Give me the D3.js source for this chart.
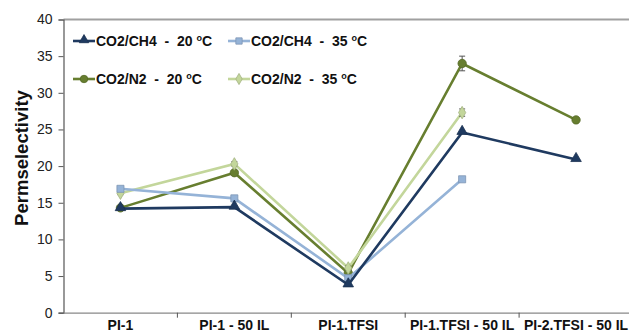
<!DOCTYPE html>
<html><head><meta charset="utf-8">
<script src="https://cdn.jsdelivr.net/npm/d3@7/dist/d3.min.js"></script>
<style>body{margin:0;background:#fff}svg{display:block}</style>
</head><body><svg id="c" width="629" height="335"></svg>
<script>
const categories = ["PI-1", "PI-1 - 50 IL", "PI-1.TFSI", "PI-1.TFSI - 50 IL", "PI-2.TFSI - 50 IL"];
const ch4_20 = [14.2, 14.4, 3.8, 24.6, 20.9];
const ch4_35 = [16.9, 15.6, 4.7, 18.2, null];
const n2_20  = [14.3, 19.1, 5.4, 34.0, 26.3];
const n2_35  = [16.3, 20.3, 6.1, 27.3, null];
const n2_20_err = [0.2, 0.3, 0.3, 1.0, 0.2];
const n2_35_err = [0.2, 0.3, 0.3, 0.5, null];
const yTicks = [0, 5, 10, 15, 20, 25, 30, 35, 40];

const series = [
  {name:"CO2/N2", temp:"20", vals:n2_20, err:n2_20_err, color:"#677e2f", sym:"circle"},
  {name:"CO2/N2", temp:"35", vals:n2_35, err:n2_35_err, color:"#c3d69b", sym:"diamond"},
  {name:"CO2/CH4", temp:"35", vals:ch4_35, err:null, color:"#95b3d7", sym:"square"},
  {name:"CO2/CH4", temp:"20", vals:ch4_20, err:null, color:"#1f3a60", sym:"triangle"}
];

const svg = d3.select("#c");
const mLeft = 63.5, mRight = 633, mTop = 19.5, mBottom = 312.7;
const FONT = "Liberation Sans, Arial, sans-serif";
const x = d3.scaleBand().domain(categories).range([mLeft, mRight]);
const y = d3.scaleLinear().domain([0, 40]).range([mBottom, mTop]);

// top border
svg.append("line").attr("x1", mLeft).attr("x2", 629).attr("y1", y(40)).attr("y2", y(40))
  .attr("stroke", "#a0a0a0").attr("stroke-width", 2);

// y axis
const ya = svg.append("g").attr("transform", `translate(${mLeft},0)`)
  .call(d3.axisLeft(y).tickValues(yTicks).tickSize(5).tickPadding(6));
ya.select(".domain").attr("stroke", "#555").attr("stroke-width", 1.2);
ya.selectAll(".tick line").attr("stroke", "#555");
ya.selectAll("text").attr("font-family", FONT).attr("font-size", 14).attr("fill", "#222");

// x axis
const xa = svg.append("g").attr("transform", `translate(0,${mBottom})`)
  .call(d3.axisBottom(x).tickSize(0).tickPadding(7));
xa.select(".domain").attr("stroke", "#888").attr("stroke-width", 1.2);
xa.selectAll("text").attr("font-family", FONT).attr("font-size", 14)
  .attr("font-weight", "bold").attr("fill", "#111").attr("textLength", null);
// category separators
categories.slice(1).forEach(c => {
  svg.append("line").attr("x1", x(c)).attr("x2", x(c)).attr("y1", mBottom).attr("y2", mBottom + 5)
    .attr("stroke", "#555");
});

// y label
svg.append("text").attr("transform", `translate(28,158) rotate(-90)`)
  .attr("text-anchor", "middle").attr("font-family", FONT)
  .attr("font-size", 18.5).attr("font-weight", "bold").attr("fill", "#111").text("Permselectivity");

function symPath(sym, size) {
  const t = {circle: d3.symbolCircle, diamond: d3.symbolDiamond, square: d3.symbolSquare, triangle: d3.symbolTriangle}[sym];
  return d3.symbol(t, size)();
}
const symSize = {circle: 55, diamond: 45, square: 50, triangle: 48};
function stroke(s){ return d3.color(s.color).darker(0.5).formatHex(); }

const cx = c => x(c) + x.bandwidth() / 2;

series.forEach(s => {
  const pts = categories.map((c, i) => ({c, v: s.vals[i], e: s.err ? s.err[i] : null})).filter(p => p.v != null);
  const line = d3.line().x(p => cx(p.c)).y(p => y(p.v));
  svg.append("path").datum(pts).attr("d", line).attr("fill", "none")
    .attr("stroke", s.color).attr("stroke-width", 2.6);
  pts.forEach(p => {
    if (p.e) {
      const g = svg.append("g").attr("stroke", "#555").attr("stroke-width", 1);
      g.append("line").attr("x1", cx(p.c)).attr("x2", cx(p.c)).attr("y1", y(p.v + p.e)).attr("y2", y(p.v - p.e));
      g.append("line").attr("x1", cx(p.c) - 3).attr("x2", cx(p.c) + 3).attr("y1", y(p.v + p.e)).attr("y2", y(p.v + p.e));
      g.append("line").attr("x1", cx(p.c) - 3).attr("x2", cx(p.c) + 3).attr("y1", y(p.v - p.e)).attr("y2", y(p.v - p.e));
    }
    svg.append("path").attr("d", symPath(s.sym, symSize[s.sym]))
      .attr("transform", `translate(${cx(p.c)},${y(p.v) + (s.sym === "triangle" ? -1 : 0)})`)
      .attr("fill", s.color).attr("stroke", stroke(s)).attr("stroke-width", 0.8);
  });
});

// legend
const legendItems = [
  {s: series[3], lx: 73, ly: 41},
  {s: series[2], lx: 228, ly: 41},
  {s: series[0], lx: 73, ly: 79},
  {s: series[1], lx: 228, ly: 79}
];
legendItems.forEach(li => {
  const g = svg.append("g");
  g.append("line").attr("x1", li.lx).attr("x2", li.lx + 22).attr("y1", li.ly).attr("y2", li.ly)
    .attr("stroke", li.s.color).attr("stroke-width", 2.6);
  g.append("path").attr("d", symPath(li.s.sym, symSize[li.s.sym] * 0.8))
    .attr("transform", `translate(${li.lx + 11},${li.ly + (li.s.sym === "triangle" ? -1 : 0)})`)
    .attr("fill", li.s.color).attr("stroke", stroke(li.s)).attr("stroke-width", 0.8);
  const t = g.append("text").attr("x", li.lx + 23).attr("y", li.ly + 5)
    .attr("font-family", FONT).attr("font-size", 14)
    .attr("font-weight", "bold").attr("fill", "#111").attr("xml:space", "preserve");
  t.append("tspan").text(li.s.name + "  -  " + li.s.temp + " ");
  t.append("tspan").attr("font-size", 9).attr("dy", -5).text("o");
  t.append("tspan").attr("dy", 5).text("C");
});
</script></body></html>
